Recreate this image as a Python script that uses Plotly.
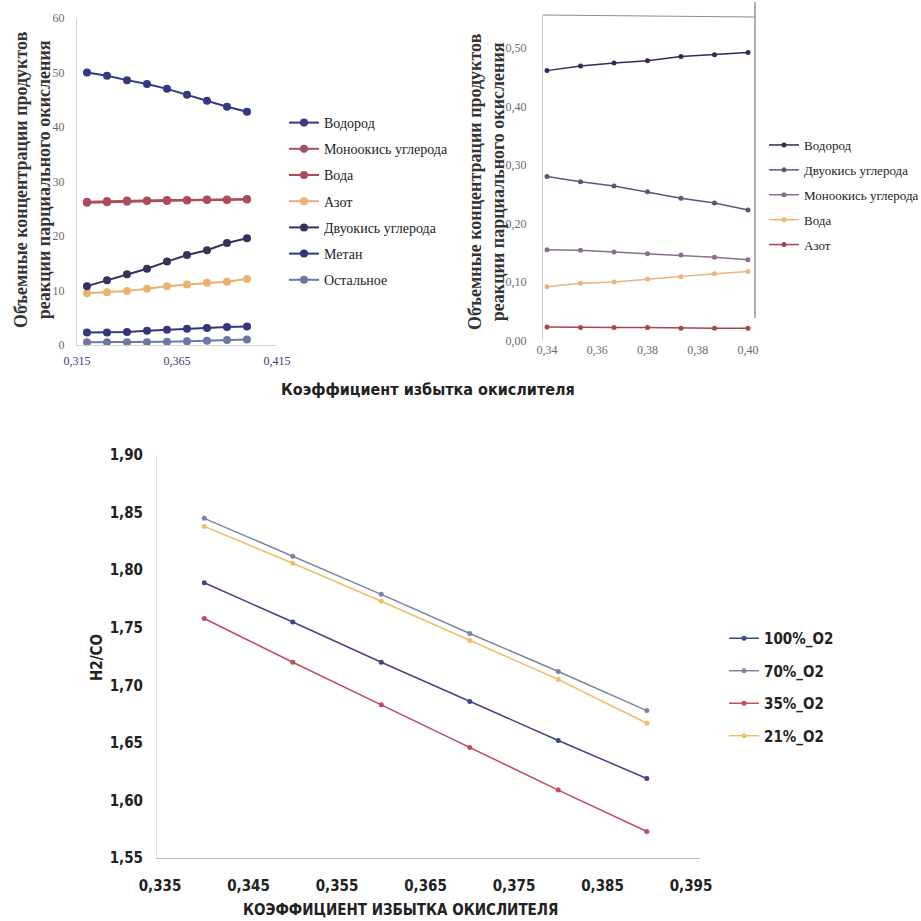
import plotly.graph_objects as go

# ---- Data: upper-left panel (concentrations, %) ----
alpha_a = [0.32, 0.33, 0.34, 0.35, 0.36, 0.37, 0.38, 0.39, 0.40]
h2_a = [50.0, 49.4, 48.6, 47.9, 47.0, 45.9, 44.8, 43.7, 42.8]
co_a = [26.3, 26.4, 26.5, 26.5, 26.6, 26.6, 26.7, 26.7, 26.8]
h2o_a = [26.1, 26.2, 26.3, 26.4, 26.4, 26.5, 26.6, 26.6, 26.7]
n2_a = [9.5, 9.7, 9.9, 10.3, 10.8, 11.1, 11.4, 11.6, 12.1]
co2_a = [10.8, 11.9, 13.0, 14.0, 15.3, 16.5, 17.4, 18.7, 19.6]
ch4_a = [2.3, 2.3, 2.4, 2.6, 2.8, 3.0, 3.1, 3.3, 3.4]
rest_a = [0.5, 0.5, 0.5, 0.5, 0.6, 0.7, 0.8, 0.9, 1.0]
ticks_a_x = [0.315, 0.365, 0.415]
ticks_a_y = [0, 10, 20, 30, 40, 50, 60]

# ---- Data: upper-right panel (fractions) ----
alpha_b = [0.34, 0.35, 0.36, 0.37, 0.38, 0.39, 0.40]
h2_b = [0.461, 0.469, 0.474, 0.478, 0.485, 0.488, 0.492]
co2_b = [0.280, 0.271, 0.264, 0.254, 0.243, 0.235, 0.223]
co_b = [0.155, 0.154, 0.151, 0.148, 0.146, 0.142, 0.138]
h2o_b = [0.092, 0.098, 0.100, 0.105, 0.109, 0.114, 0.118]
n2_b = [0.023, 0.022, 0.022, 0.022, 0.021, 0.021, 0.021]
ticks_b_x = [0.34, 0.355, 0.37, 0.385, 0.40]
labels_b_x = ["0,34", "0,36", "0,38", "0,38", "0,40"]
ticks_b_y = [0.0, 0.1, 0.2, 0.3, 0.4, 0.5]

# ---- Data: lower panel (H2/CO ratio) ----
alpha_c = [0.34, 0.35, 0.36, 0.37, 0.38, 0.39]
r100 = [1.789, 1.755, 1.720, 1.686, 1.652, 1.619]
r70 = [1.845, 1.812, 1.779, 1.745, 1.712, 1.678]
r35 = [1.758, 1.720, 1.683, 1.646, 1.609, 1.573]
r21 = [1.838, 1.806, 1.773, 1.739, 1.705, 1.667]
ticks_c_x = [0.335, 0.345, 0.355, 0.365, 0.375, 0.385, 0.395]
ticks_c_y = [1.55, 1.60, 1.65, 1.70, 1.75, 1.80, 1.85, 1.90]

SERIF = "Liberation Serif, DejaVu Serif, serif"
NARROW = "DejaVu Sans Condensed, Liberation Sans Narrow, Liberation Sans, sans-serif"
W = H = 921


def px(v):
    return v / W


def py(v):
    return 1 - v / H


fig = go.Figure()

panel_a = [
    ("Водород", h2_a, "#33397f"),
    ("Моноокись углерода", co_a, "#a0506a"),
    ("Вода", h2o_a, "#b04a58"),
    ("Азот", n2_a, "#e9b272"),
    ("Двуокись углерода", co2_a, "#3b2f5c"),
    ("Метан", ch4_a, "#33367c"),
    ("Остальное", rest_a, "#6c78a4"),
]
for i, (name, vals, col) in enumerate(panel_a):
    fig.add_trace(go.Scatter(
        x=alpha_a, y=vals, name=name, mode="lines+markers",
        line=dict(color=col, width=2), marker=dict(color=col, size=8),
        xaxis="x", yaxis="y", legend="legend", legendgroup="a%d" % i,
        cliponaxis=False))

panel_b = [
    ("Водород", h2_b, "#2b2d5e"),
    ("Двуокись углерода", co2_b, "#56587e"),
    ("Моноокись углерода", co_b, "#8a6f8c"),
    ("Вода", h2o_b, "#ebb47c"),
    ("Азот", n2_b, "#a8444f"),
]
for i, (name, vals, col) in enumerate(panel_b):
    fig.add_trace(go.Scatter(
        x=alpha_b, y=vals, name=name, mode="lines+markers",
        line=dict(color=col, width=1.5), marker=dict(color=col, size=5),
        xaxis="x2", yaxis="y2", legend="legend2", legendgroup="b%d" % i,
        cliponaxis=False))

panel_c = [
    ("100%_O2", r100, "#3d4686"),
    ("70%_O2", r70, "#7b84a6"),
    ("35%_O2", r35, "#c24b5c"),
    ("21%_O2", r21, "#f2bd6a"),
]
for i, (name, vals, col) in enumerate(panel_c):
    fig.add_trace(go.Scatter(
        x=alpha_c, y=vals, name=name, mode="lines+markers",
        line=dict(color=col, width=1.5), marker=dict(color=col, size=5),
        xaxis="x3", yaxis="y3", legend="legend3", legendgroup="c%d" % i,
        cliponaxis=False))

tick_serif = dict(family=SERIF, size=12, color="#6a6a6a")
bold_narrow = dict(family=NARROW, size=15, color="#222", weight="bold")
clear = "rgba(0,0,0,0)"

fig.update_layout(
    width=W, height=H,
    margin=dict(l=0, r=0, t=0, b=0, pad=0, autoexpand=False),
    paper_bgcolor="white", plot_bgcolor="white",
    separators=", ",
    xaxis=dict(domain=[px(77), px(277)], range=[0.315, 0.415], anchor="y",
               tickvals=ticks_a_x, tickformat=".3f", showgrid=False,
               zeroline=False, showline=True, linecolor="#d6d6d6",
               tickfont=dict(family=SERIF, size=12, color="#3a3a7a"),
               ticks="outside", ticklen=5, tickcolor=clear),
    yaxis=dict(domain=[py(345), py(18)], range=[0, 60], anchor="x",
               tickvals=ticks_a_y, showgrid=False, zeroline=False,
               showline=True, linecolor="#cfcfcf", tickfont=tick_serif,
               ticks="outside", ticklen=9, tickcolor=clear),
    xaxis2=dict(domain=[px(543), px(755)], range=[0.3388, 0.4021], anchor="y2",
                tickvals=ticks_b_x, ticktext=labels_b_x, showgrid=False,
                zeroline=False, showline=False, tickfont=tick_serif,
                ticks="", ticklen=0),
    yaxis2=dict(domain=[py(340.5), py(15)], range=[0, 0.556], anchor="x2",
                tickvals=ticks_b_y, tickformat=".2f", showgrid=False,
                zeroline=False, showline=True, linecolor="#cfcfcf",
                tickfont=tick_serif, ticks="outside", ticklen=13,
                tickcolor=clear),
    xaxis3=dict(domain=[px(157), px(700)], range=[0.33466, 0.39601],
                anchor="y3", tickvals=ticks_c_x, tickformat=".3f",
                showgrid=False, zeroline=False, showline=True,
                linecolor="#bdbdbd", tickfont=bold_narrow, ticks="outside",
                ticklen=14, tickcolor=clear),
    yaxis3=dict(domain=[py(858), py(455)], range=[1.55, 1.90], anchor="x3",
                tickvals=ticks_c_y, tickformat=".2f", showgrid=False,
                zeroline=False, showline=True, linecolor="#e2e2e2",
                tickfont=bold_narrow, ticks="outside", ticklen=10,
                tickcolor=clear),
    legend=dict(x=px(284), y=py(107), xanchor="left", yanchor="top",
                font=dict(family=SERIF, size=14, color="#222"),
                bgcolor=clear, tracegroupgap=5, itemwidth=30),
    legend2=dict(x=px(764), y=py(130), xanchor="left", yanchor="top",
                 font=dict(family=SERIF, size=13, color="#222"),
                 bgcolor=clear, tracegroupgap=5, itemwidth=30),
    legend3=dict(x=px(724), y=py(622), xanchor="left", yanchor="top",
                 font=dict(family=NARROW, size=15, color="#222", weight="bold"),
                 bgcolor=clear, tracegroupgap=10, itemwidth=30),
    showlegend=True,
)

# frame lines around the upper-right panel
fig.add_shape(type="line", xref="paper", yref="paper",
              x0=px(543), x1=px(755), y0=py(15), y1=py(17),
              line=dict(color="#8c8c8c", width=1.2))
fig.add_shape(type="line", xref="paper", yref="paper",
              x0=px(755), x1=px(755), y0=py(2), y1=py(318),
              line=dict(color="#7a7a7a", width=1.2))


def title(text, x, y, font, angle=0):
    fig.add_annotation(text="<b>" + text + "</b>", xref="paper", yref="paper",
                       x=px(x), y=py(y), xanchor="center", yanchor="middle",
                       textangle=angle, showarrow=False, font=font)


ytitle = "Объемные концентрации продуктов<br>реакции парциального окисления"
serif_title = dict(family=SERIF, size=18, color="#333")
title(ytitle, 33, 180, serif_title, -90)
title(ytitle, 487, 182, serif_title, -90)
title("Коэффициент избытка окислителя", 428, 390,
      dict(family=NARROW, size=16, color="#222"))
title("H2/CO", 97, 658, dict(family=NARROW, size=15, color="#222"), -90)
title("КОЭФФИЦИЕНТ ИЗБЫТКА ОКИСЛИТЕЛЯ", 400, 910,
      dict(family=NARROW, size=15, color="#222"))

fig.write_html("out.html")
